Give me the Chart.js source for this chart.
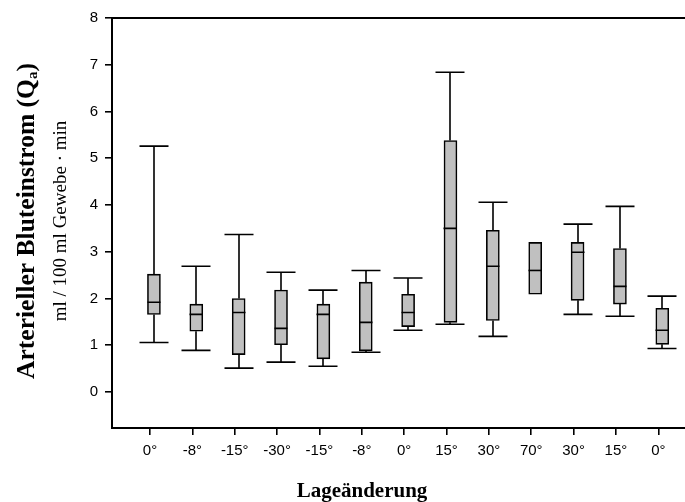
<!DOCTYPE html>
<html>
<head>
<meta charset="utf-8">
<script src="https://cdn.jsdelivr.net/npm/chart.js@4.4.0/dist/chart.umd.min.js"></script>
<style>
html,body{margin:0;padding:0;background:#fff;}
#wrap{width:685px;height:502px;position:relative;}
</style>
</head>
<body>
<div id="wrap"><canvas id="c"></canvas></div>
<script>
const categories = ["0°", "-8°", "-15°", "-30°", "-15°", "-8°", "0°", "15°", "30°", "70°", "30°", "15°", "0°"];
const whiskerLow  = [1.06, 0.89, 0.51, 0.64, 0.55, 0.85, 1.32, 1.45, 1.19, null, 1.66, 1.62, 0.93];
const quartile1   = [1.66, 1.30, 0.80, 1.01, 0.71, 0.88, 1.40, 1.49, 1.53, 2.09, 1.96, 1.88, 1.02];
const medians     = [1.92, 1.66, 1.70, 1.36, 1.66, 1.49, 1.70, 3.50, 2.69, 2.60, 2.99, 2.26, 1.32];
const quartile3   = [2.52, 1.88, 2.00, 2.18, 1.88, 2.35, 2.09, 5.38, 3.46, 3.20, 3.20, 3.07, 1.79];
const whiskerHigh = [5.26, 2.69, 3.37, 2.56, 2.18, 2.60, 2.44, 6.84, 4.06, null, 3.59, 3.97, 2.05];
const yTicks = [0, 1, 2, 3, 4, 5, 6, 7, 8];

const boxData = categories.map((c, i) => ({x: i, y: [quartile1[i], quartile3[i]]}));

const boxPlugin = {
  id: 'boxParts',
  afterDatasetsDraw(chart) {
    const ctx = chart.ctx;
    const xs = chart.scales.xb, ys = chart.scales.y;
    const capHalf = 14.5, boxHalf = 6.5;
    ctx.save();
    ctx.strokeStyle = '#000';
    ctx.lineWidth = 1.6;
    categories.forEach((c, i) => {
      const x = Math.round(xs.getPixelForValue(i));
      ctx.beginPath();
      if (whiskerHigh[i] != null) {
        const yh = ys.getPixelForValue(whiskerHigh[i]);
        ctx.moveTo(x, ys.getPixelForValue(quartile3[i])); ctx.lineTo(x, yh);
        ctx.moveTo(x - capHalf, yh); ctx.lineTo(x + capHalf, yh);
      }
      if (whiskerLow[i] != null) {
        const yl = ys.getPixelForValue(whiskerLow[i]);
        ctx.moveTo(x, ys.getPixelForValue(quartile1[i])); ctx.lineTo(x, yl);
        ctx.moveTo(x - capHalf, yl); ctx.lineTo(x + capHalf, yl);
      }
      const ym = ys.getPixelForValue(medians[i]);
      ctx.moveTo(x - boxHalf, ym); ctx.lineTo(x + boxHalf, ym);
      ctx.stroke();
    });
    const a = chart.chartArea;
    ctx.lineWidth = 2;
    ctx.beginPath();
    ctx.moveTo(a.left - 1, a.top); ctx.lineTo(chart.width, a.top);
    ctx.stroke();
    ctx.restore();
  },
  afterDraw(chart) {
    const ctx = chart.ctx;
    ctx.save();
    ctx.fillStyle = '#000';
    ctx.translate(27, 221);
    ctx.rotate(-Math.PI / 2);
    ctx.textBaseline = 'middle';
    const main = 'Arterieller Bluteinstrom (Q';
    const sub = 'a';
    const end = ')';
    const big = 'bold 25.5px "Liberation Serif"', small = 'bold 15px "Liberation Serif"';
    ctx.font = big;
    const w1 = ctx.measureText(main).width;
    const w3 = ctx.measureText(end).width;
    ctx.font = small;
    const w2 = ctx.measureText(sub).width;
    const x0 = -(w1 + w2 + w3) / 2;
    ctx.textAlign = 'left';
    ctx.font = big;
    ctx.fillText(main, x0, 0);
    ctx.font = small;
    ctx.fillText(sub, x0 + w1, 6);
    ctx.font = big;
    ctx.fillText(end, x0 + w1 + w2, 0);
    ctx.font = '19px "Liberation Serif"';
    ctx.textAlign = 'center';
    ctx.fillText('ml / 100 ml Gewebe · min', 0, 34);
    ctx.restore();
    ctx.save();
    ctx.fillStyle = '#000';
    ctx.font = 'bold 21px "Liberation Serif"';
    ctx.textAlign = 'center';
    ctx.textBaseline = 'alphabetic';
    ctx.fillText('Lageänderung', 362, 497);
    ctx.restore();
  }
};

new Chart(document.getElementById('c'), {
  type: 'bar',
  data: {
    datasets: [{
      data: boxData,
      xAxisID: 'xb',
      yAxisID: 'y',
      backgroundColor: '#c0c0c0',
      borderColor: '#000',
      borderWidth: 1.6,
      borderSkipped: false,
      barThickness: 13
    }]
  },
  options: {
    responsive: true,
    maintainAspectRatio: false,
    animation: false,
    layout: {padding: {top: 18, right: 0, left: 0, bottom: 0}},
    plugins: {legend: {display: false}, tooltip: {enabled: false}},
    scales: {
      xb: {
        type: 'linear',
        display: false,
        offset: false,
        grid: {offset: false},
        min: -0.99,
        max: 12.536
      },
      x: {
        type: 'linear',
        position: 'bottom',
        offset: false,
        min: -0.897,
        max: 12.63,
        afterBuildTicks(scale) { scale.ticks = categories.map((c, i) => ({value: i})); },
        afterFit(scale) { scale.height = 74; },
        grid: {offset: false, drawOnChartArea: false, drawTicks: true, tickLength: 7, color: '#000', lineWidth: 1.6},
        border: {display: true, color: '#000', width: 2},
        ticks: {
          autoSkip: false, maxRotation: 0, padding: 7,
          color: '#000',
          font: {family: '"Liberation Sans", Arial', size: 15},
          callback: (v) => categories[v] ?? ''
        }
      },
      y: {
        type: 'linear',
        min: -0.77,
        max: 8,
        afterBuildTicks(scale) { scale.ticks = yTicks.map(v => ({value: v})); },
        afterFit(scale) { scale.width = 112; },
        grid: {drawOnChartArea: false, drawTicks: true, tickLength: 7, color: '#000', lineWidth: 1.6},
        border: {display: true, color: '#000', width: 2},
        ticks: {
          padding: 7, color: '#000',
          font: {family: '"Liberation Sans", Arial', size: 15}
        }
      }
    }
  },
  plugins: [boxPlugin]
});
</script>
</body>
</html>
